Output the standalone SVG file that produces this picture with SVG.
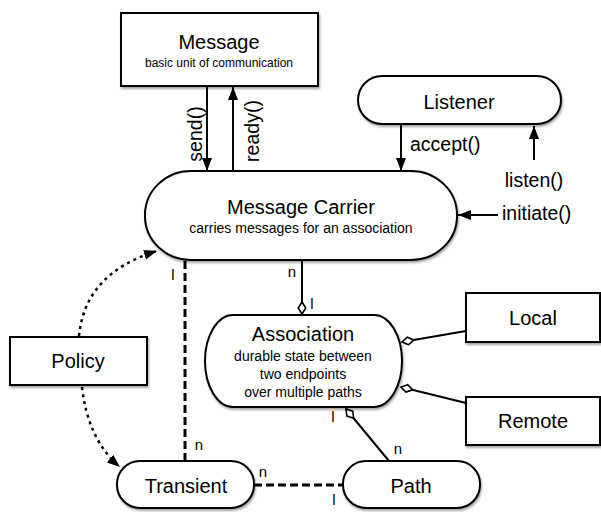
<svg xmlns="http://www.w3.org/2000/svg" width="601" height="512" viewBox="0 0 601 512">
<style>
.node{fill:#fff;stroke:#000;stroke-width:2;filter:url(#sh)}
text{font-family:"Liberation Sans",Arial,sans-serif;fill:#000}
.t{font-size:20px;text-anchor:middle}
.s{font-size:12px;text-anchor:middle}
.s2{font-size:14px;text-anchor:middle}
.lab{font-size:19.5px}
.m{font-size:15px;text-anchor:middle}
.c{fill:none;stroke:#000;stroke-width:2}
.dash{fill:none;stroke:#000;stroke-width:3;stroke-dasharray:8,4}
.dot{fill:none;stroke:#000;stroke-width:2.5;stroke-dasharray:3,4}
</style>
<defs>
<filter id="sh" x="-10%" y="-10%" width="125%" height="130%">
<feDropShadow dx="1" dy="2" stdDeviation="1.3" flood-color="#000" flood-opacity="0.35"/>
</filter>
<marker id="arr" markerUnits="userSpaceOnUse" markerWidth="16" markerHeight="14" viewBox="0 -7 16 14" refX="13" refY="0" orient="auto">
<path d="M0,-5 L13,0 L0,5 z" fill="#000" stroke="none"/>
</marker>
<marker id="dia" markerUnits="userSpaceOnUse" markerWidth="16" markerHeight="12" viewBox="-1 -6 16 12" refX="12" refY="0" orient="auto">
<path d="M0,0 L6,-3.8 L12,0 L6,3.8 z" fill="#fff" stroke="#000" stroke-width="1.6"/>
</marker>
</defs>

<g id="connectors">
<line class="c" x1="207" y1="86" x2="207" y2="171" marker-end="url(#arr)"/>
<line class="c" x1="233" y1="171" x2="233" y2="87" marker-end="url(#arr)"/>
<line class="c" x1="401" y1="124" x2="401" y2="171" marker-end="url(#arr)"/>
<line class="c" x1="534" y1="160" x2="534" y2="126" marker-end="url(#arr)"/>
<line class="c" x1="498" y1="215" x2="458" y2="215" marker-end="url(#arr)"/>
<line class="c" x1="302" y1="260" x2="302" y2="314" marker-end="url(#dia)"/>
<line class="c" x1="466" y1="331" x2="402" y2="342" marker-end="url(#dia)"/>
<line class="c" x1="466" y1="403" x2="401" y2="387" marker-end="url(#dia)"/>
<line class="c" x1="389" y1="461" x2="346" y2="409" marker-end="url(#dia)"/>
<line class="dash" x1="185" y1="261" x2="185" y2="461"/>
<line class="dash" x1="254" y1="485" x2="343" y2="485"/>
<path class="dot" d="M79,336 Q85,273 157,251" marker-end="url(#arr)"/>
<path class="dot" d="M82,387 Q88,440 120,467" marker-end="url(#arr)"/>
<text class="lab" transform="translate(202,134) rotate(-90)" text-anchor="middle">send()</text>
<text class="lab" transform="translate(259,131) rotate(-90)" text-anchor="middle">ready()</text>
<text class="lab" x="410" y="151">accept()</text>
<text class="lab" x="534" y="187" text-anchor="middle">listen()</text>
<text class="lab" x="502" y="220">initiate()</text>
<text class="m" x="292" y="277">n</text>
<text class="m" x="312" y="309">l</text>
<text class="m" x="173" y="280">l</text>
<text class="m" x="199" y="450">n</text>
<text class="m" x="263" y="477">n</text>
<text class="m" x="334" y="505">l</text>
<text class="m" x="333" y="422">l</text>
<text class="m" x="398" y="454">n</text>
</g>

<g id="message">
<rect class="node" x="121" y="13" width="197" height="73"/>
<text class="t" x="219" y="49">Message</text>
<text class="s" x="219" y="67">basic unit of communication</text>
</g>
<g id="listener">
<rect class="node" x="358" y="76" width="203" height="48" rx="24" ry="24"/>
<text class="t" x="459" y="109">Listener</text>
</g>
<g id="message-carrier">
<rect class="node" x="145" y="171" width="312" height="89" rx="46" ry="44"/>
<text class="t" x="301" y="214">Message Carrier</text>
<text class="s2" x="301" y="233">carries messages for an association</text>
</g>
<g id="association">
<rect class="node" x="205" y="315" width="197" height="92" rx="28" ry="46"/>
<text class="t" x="303" y="341">Association</text>
<text class="s2" x="303" y="361">durable state between</text>
<text class="s2" x="303" y="379">two endpoints</text>
<text class="s2" x="303" y="397">over multiple paths</text>
</g>
<g id="local">
<rect class="node" x="466" y="293" width="134" height="49"/>
<text class="t" x="533" y="325">Local</text>
</g>
<g id="remote">
<rect class="node" x="466" y="397" width="134" height="48"/>
<text class="t" x="533" y="428">Remote</text>
</g>
<g id="policy">
<rect class="node" x="10" y="337" width="137" height="48"/>
<text class="t" x="78" y="368">Policy</text>
</g>
<g id="transient">
<rect class="node" x="117" y="461" width="137" height="47" rx="23" ry="23"/>
<text class="t" x="186" y="493">Transient</text>
</g>
<g id="path">
<rect class="node" x="343" y="461" width="137" height="47" rx="23" ry="23"/>
<text class="t" x="411" y="493">Path</text>
</g>
</svg>
